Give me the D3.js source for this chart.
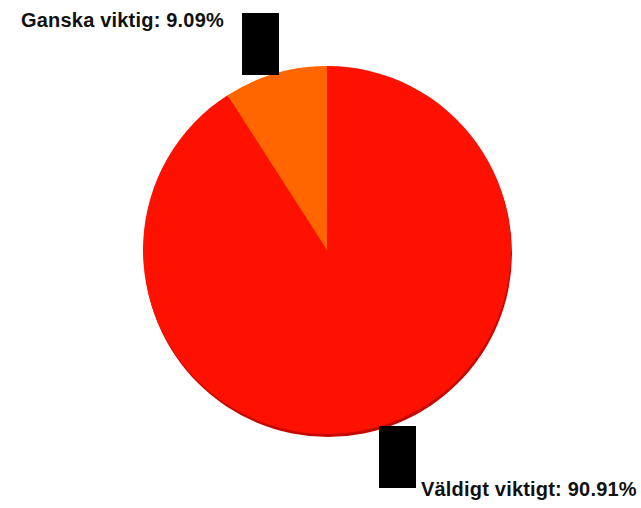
<!DOCTYPE html>
<html><head><meta charset="utf-8">
<script src="https://cdn.jsdelivr.net/npm/d3@7"></script>
<style>html,body{margin:0;padding:0;background:#fff;}</style>
</head><body>
<svg id="chart" width="641" height="508"></svg>
<script>
const categories = ["Väldigt viktigt", "Ganska viktig"];
const values = [90.91, 9.09];
const colors = ["#FF1100", "#FF6600"];

const svg = d3.select("#chart");
const cx = 327, cy = 250, r = 184;
const pie = d3.pie().sort(null).value(d => d)(values);
const arc = d3.arc().innerRadius(0).outerRadius(r);
const g = svg.append("g").attr("transform", `translate(${cx},${cy})`);

// shadow
g.append("circle").attr("cx", 1).attr("cy", 3).attr("r", r).attr("fill", "#C40A00");

g.selectAll("path.slice").data(pie).enter().append("path")
  .attr("class", "slice")
  .attr("d", arc)
  .attr("fill", (d, i) => colors[i]);

// label boxes and texts
const boxes = [{x: 379, y: 426}, {x: 242, y: 13}];
svg.selectAll("rect.box").data(boxes).enter().append("rect")
  .attr("x", d => d.x).attr("y", d => d.y).attr("width", 37).attr("height", 62)
  .attr("fill", "#000");

const labelPos = [{x: 421, y: 496}, {x: 21, y: 27}];
svg.selectAll("text.lbl").data(categories).enter().append("text")
  .attr("x", (d, i) => labelPos[i].x).attr("y", (d, i) => labelPos[i].y)
  .attr("font-family", "Liberation Sans, Arial, sans-serif")
  .attr("font-weight", "bold").attr("font-size", 20)
  .attr("letter-spacing", 0.2)
  .attr("fill", "#111")
  .text((d, i) => `${d}: ${values[i].toFixed(2)}%`);
</script>
</body></html>
